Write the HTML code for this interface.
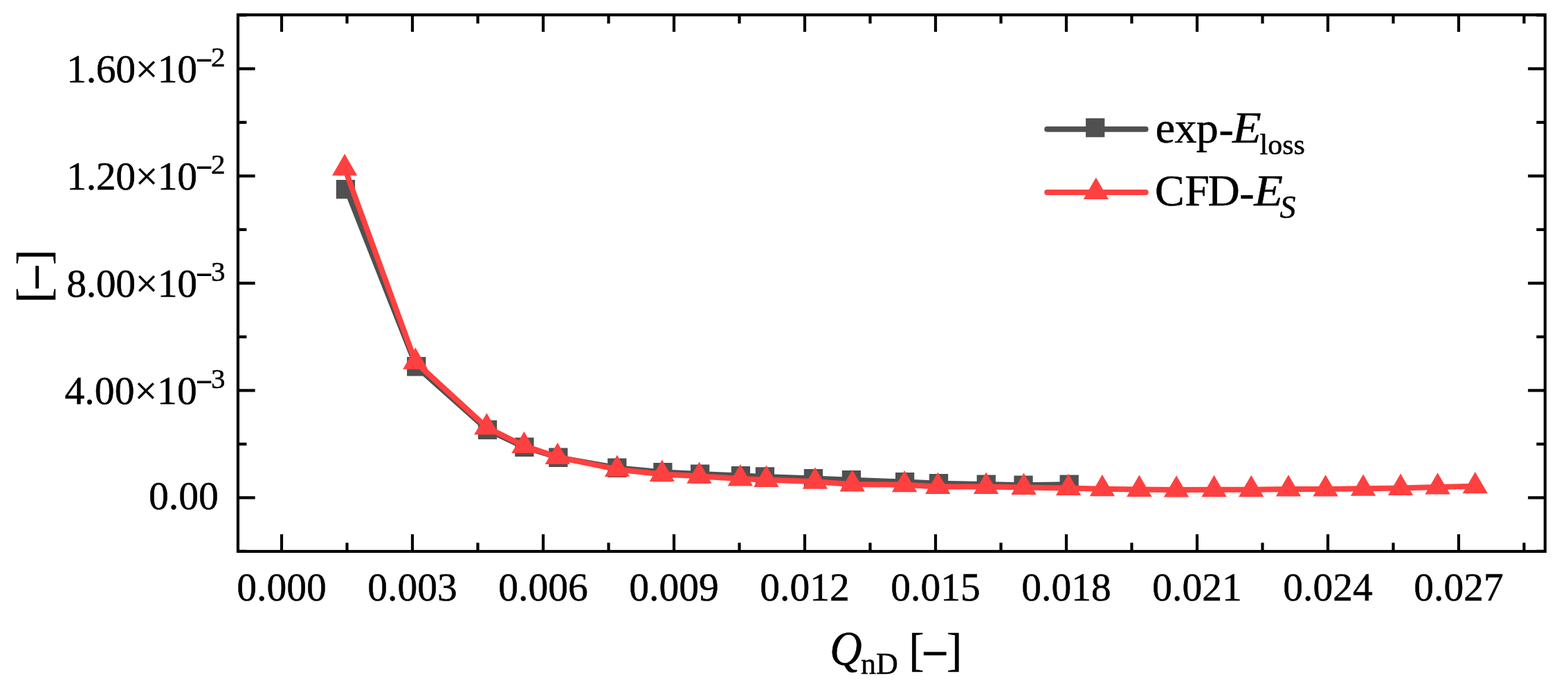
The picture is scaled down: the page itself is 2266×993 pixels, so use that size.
<!DOCTYPE html>
<html><head><meta charset="utf-8"><title>E loss vs QnD</title>
<style>
html,body{margin:0;padding:0;background:#fff;}
body{width:2266px;height:993px;overflow:hidden;}
svg{display:block;}
text{font-family:"Liberation Serif","Times New Roman",serif;fill:#000;stroke:#000;stroke-width:0.5px;}
.t{font-size:57.5px;}
.s{font-size:41px;}
.l{font-size:64px;}
.m{stroke:#000;stroke-width:1.4px;}
.m2{stroke:#000;stroke-width:1.6px;}
</style></head>
<body>
<svg width="2266" height="993" viewBox="0 0 2266 993">
<rect width="2266" height="993" fill="#fff"/>
<rect x="343.90" y="21.45" width="1889.00" height="775.55" fill="none" stroke="#000" stroke-width="4.2"/>
<path d="M407.0 797.0V772.3M407.0 21.4V46.1M596.0 797.0V772.3M596.0 21.4V46.1M785.0 797.0V772.3M785.0 21.4V46.1M974.0 797.0V772.3M974.0 21.4V46.1M1163.0 797.0V772.3M1163.0 21.4V46.1M1352.0 797.0V772.3M1352.0 21.4V46.1M1541.0 797.0V772.3M1541.0 21.4V46.1M1730.0 797.0V772.3M1730.0 21.4V46.1M1919.0 797.0V772.3M1919.0 21.4V46.1M2108.0 797.0V772.3M2108.0 21.4V46.1M501.5 797.0V784.5M501.5 21.4V34.0M690.5 797.0V784.5M690.5 21.4V34.0M879.5 797.0V784.5M879.5 21.4V34.0M1068.5 797.0V784.5M1068.5 21.4V34.0M1257.5 797.0V784.5M1257.5 21.4V34.0M1446.5 797.0V784.5M1446.5 21.4V34.0M1635.5 797.0V784.5M1635.5 21.4V34.0M1824.5 797.0V784.5M1824.5 21.4V34.0M2013.5 797.0V784.5M2013.5 21.4V34.0M2202.5 797.0V784.5M2202.5 21.4V34.0M343.9 719.3H368.6M2232.9 719.3H2208.2M343.9 564.3H368.6M2232.9 564.3H2208.2M343.9 409.3H368.6M2232.9 409.3H2208.2M343.9 254.3H368.6M2232.9 254.3H2208.2M343.9 99.3H368.6M2232.9 99.3H2208.2M343.9 796.8H356.4M2232.9 796.8H2220.4M343.9 641.8H356.4M2232.9 641.8H2220.4M343.9 486.8H356.4M2232.9 486.8H2220.4M343.9 331.8H356.4M2232.9 331.8H2220.4M343.9 176.8H356.4M2232.9 176.8H2220.4M343.9 21.8H356.4M2232.9 21.8H2220.4" stroke="#000" stroke-width="4.2" fill="none"/>
<path d="M500.6 273.5L601.8 529.8L704.5 621.2L757.9 646.3L806.8 661.2L891.7 676.3L957.9 682.6L1011.6 685.0L1070.5 687.5L1105.5 688.9L1175.5 691.5L1230.4 693.8L1307.7 696.5L1356.6 698.8L1425.3 700.0L1479.0 701.3L1545.2 700.0" stroke="#505050" stroke-width="8" fill="none" stroke-linejoin="round" stroke-linecap="round"/>
<path d="M485.8 259.9h27.3v27.3h-27.3ZM588.1 516.1h27.3v27.3h-27.3ZM690.9 607.6h27.3v27.3h-27.3ZM744.2 632.6h27.3v27.3h-27.3ZM793.1 647.6h27.3v27.3h-27.3ZM878.1 662.6h27.3v27.3h-27.3ZM944.2 669.0h27.3v27.3h-27.3ZM998.0 671.4h27.3v27.3h-27.3ZM1056.8 673.9h27.3v27.3h-27.3ZM1091.8 675.2h27.3v27.3h-27.3ZM1161.8 677.9h27.3v27.3h-27.3ZM1216.8 680.1h27.3v27.3h-27.3ZM1294.0 682.9h27.3v27.3h-27.3ZM1342.9 685.1h27.3v27.3h-27.3ZM1411.6 686.4h27.3v27.3h-27.3ZM1465.3 687.6h27.3v27.3h-27.3ZM1531.5 686.4h27.3v27.3h-27.3Z" fill="#505050"/>
<path d="M498.1 243.2L600.3 523.2L703.4 617.8L757.4 644.5L805.8 660.6L891.9 678.4L956.8 685.4L1010.5 688.3L1069.8 692.0L1107.4 693.4L1177.9 696.2L1231.7 699.9L1307.1 700.8L1355.3 703.4L1425.1 703.4L1479.5 704.4L1544.1 705.6L1592.9 706.8L1646.4 707.5L1700.1 708.1L1754.5 707.7L1808.2 707.7L1862.0 707.1L1915.6 707.1L1970.1 706.3L2024.1 705.4L2077.6 704.1L2131.8 702.8" stroke="#FF4040" stroke-width="8" fill="none" stroke-linejoin="round" stroke-linecap="round"/>
<path d="M498.1 222.3L480.0 253.7L516.2 253.7ZM600.3 502.3L582.1 533.7L618.4 533.7ZM703.4 596.9L685.2 628.3L721.5 628.3ZM757.4 623.6L739.2 655.0L775.5 655.0ZM805.8 639.7L787.6 671.1L823.9 671.1ZM891.9 657.5L873.8 688.9L910.0 688.9ZM956.8 664.5L938.6 695.9L974.9 695.9ZM1010.5 667.4L992.4 698.8L1028.7 698.8ZM1069.8 671.1L1051.6 702.5L1088.0 702.5ZM1107.4 672.5L1089.2 703.9L1125.6 703.9ZM1177.9 675.3L1159.8 706.7L1196.1 706.7ZM1231.7 679.0L1213.5 710.4L1249.9 710.4ZM1307.1 679.9L1288.9 711.3L1325.2 711.3ZM1355.3 682.5L1337.1 713.9L1373.5 713.9ZM1425.1 682.5L1406.9 713.9L1443.2 713.9ZM1479.5 683.5L1461.3 714.9L1497.7 714.9ZM1544.1 684.7L1525.9 716.1L1562.2 716.1ZM1592.9 685.9L1574.8 717.3L1611.1 717.3ZM1646.4 686.6L1628.2 718.0L1664.6 718.0ZM1700.1 687.2L1681.9 718.6L1718.2 718.6ZM1754.5 686.8L1736.3 718.2L1772.7 718.2ZM1808.2 686.8L1790.0 718.2L1826.4 718.2ZM1862.0 686.2L1843.8 717.6L1880.2 717.6ZM1915.6 686.2L1897.4 717.6L1933.8 717.6ZM1970.1 685.4L1951.9 716.8L1988.2 716.8ZM2024.1 684.5L2005.9 715.9L2042.2 715.9ZM2077.6 683.2L2059.4 714.6L2095.8 714.6ZM2131.8 681.9L2113.7 713.3L2150.0 713.3Z" fill="#FF4040"/>
<path d="M1513.2 186.7H1655.7" stroke="#505050" stroke-width="8" stroke-linecap="round"/>
<path d="M1569.1 171.0h27.3v27.3h-27.3Z" fill="#505050"/>
<path d="M1513.2 277.9H1655.7" stroke="#FF4040" stroke-width="8" stroke-linecap="round"/>
<path d="M1583.9 256.6L1565.8 288.0L1602.1 288.0Z" fill="#FF4040"/>
<text class="t" x="284.8" y="119.3" text-anchor="end" style="letter-spacing:-0.28px">1.60×10</text>
<text class="s m" x="283.5" y="100.8">−</text>
<text class="s" x="305.0" y="96.1">2</text>
<text class="t" x="284.8" y="274.3" text-anchor="end" style="letter-spacing:-0.28px">1.20×10</text>
<text class="s m" x="283.5" y="255.8">−</text>
<text class="s" x="305.0" y="251.1">2</text>
<text class="t" x="284.8" y="429.3" text-anchor="end" style="letter-spacing:-0.28px">8.00×10</text>
<text class="s m" x="283.5" y="410.8">−</text>
<text class="s" x="305.0" y="406.1">3</text>
<text class="t" x="284.8" y="584.3" text-anchor="end" style="letter-spacing:0.12px">4.00×10</text>
<text class="s m" x="283.5" y="565.8">−</text>
<text class="s" x="305.0" y="561.1">3</text>
<text class="t" x="215.1" y="735.8">0.00</text>
<text class="t" x="407.0" y="868" text-anchor="middle">0.000</text>
<text class="t" x="596.0" y="868" text-anchor="middle">0.003</text>
<text class="t" x="785.0" y="868" text-anchor="middle">0.006</text>
<text class="t" x="974.0" y="868" text-anchor="middle">0.009</text>
<text class="t" x="1163.0" y="868" text-anchor="middle">0.012</text>
<text class="t" x="1352.0" y="868" text-anchor="middle">0.015</text>
<text class="t" x="1541.0" y="868" text-anchor="middle">0.018</text>
<text class="t" x="1730.0" y="868" text-anchor="middle">0.021</text>
<text class="t" x="1919.0" y="868" text-anchor="middle">0.024</text>
<text class="t" x="2108.0" y="868" text-anchor="middle">0.027</text>
<text class="l" style="font-size:67px" font-style="italic" transform="translate(1199.25 960.5) scale(0.96 1.04)">Q</text><text class="l" style="font-size:67px" y="961.7"><tspan x="1244" y="974" font-size="44">nD</tspan><tspan x="1313.2" y="961.7">[</tspan><tspan x="1332.5" dy="5.5" class="m2">−</tspan><tspan x="1368.1" y="961.7">]</tspan></text>
<text class="l" style="font-size:67px" transform="translate(71.2 437.9) rotate(-90)"><tspan x="0" y="0">[</tspan><tspan x="18.6" dy="4.7" class="m2">−</tspan><tspan x="55" y="0">]</tspan></text>
<text class="l" x="1669.7 1697.4 1728.8 1761.4" y="205.6 205.6 205.6 207.8">exp-</text><text class="l" font-style="italic" transform="translate(1780.9 205.6) scale(1.067 1)">E</text><text x="1820.5" y="223.4" style="font-size:42px">loss</text>
<text class="l" x="1669 1712.2 1745.6 1791.3" y="297.2 297.2 297.2 299.6">CFD-</text><text class="l" font-style="italic" transform="translate(1812.3 297.2) scale(1.067 1)">E</text><text x="1849.6" y="315" style="font-size:46px" font-style="italic">S</text>
</svg>
</body></html>
